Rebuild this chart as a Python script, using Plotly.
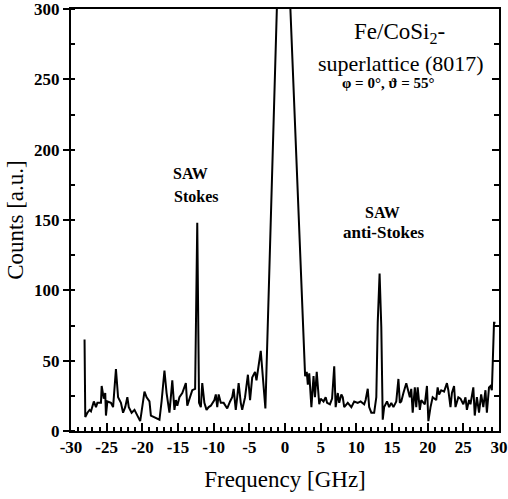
import plotly.graph_objects as go

freq = [-28.1, -28.0, -27.7, -27.4, -27.2, -26.8, -26.5, -26.3, -25.8, -25.7,
        -25.4, -25.2, -25.1, -24.9, -24.4, -24.1, -23.7, -23.4, -23.0, -22.7,
        -22.4, -22.1, -21.9, -21.5, -21.1, -20.7, -20.3, -20.1, -19.7, -19.4,
        -19.0, -18.8, -17.6, -17.3, -16.9, -16.6, -16.2, -15.9, -15.8, -15.5,
        -15.3, -15.1, -14.8, -14.4, -13.9, -13.7, -13.0, -12.6, -12.3, -12.05,
        -11.8, -11.6, -11.3, -11.0, -10.7, -10.4, -9.9, -9.7, -9.5, -9.3,
        -9.0, -8.6, -8.1, -7.7, -7.4, -7.2, -6.9, -6.7, -6.5, -6.2,
        -6.0, -5.6, -5.2, -4.9, -4.6, -4.2, -4.0, -3.4, -3.2, -2.75,
        -0.35,
        2.82, 3.05, 3.2, 3.4, 3.7, 4.0, 4.2, 4.45, 4.6, 4.8,
        5.0, 5.4, 5.7, 5.9, 6.3, 6.6, 6.9, 7.1, 7.4, 7.6,
        7.9, 8.1, 8.3, 8.8, 9.3, 9.7, 10.2, 10.6, 11.1, 11.3,
        11.6, 11.8, 12.1, 12.5, 12.8, 13.0, 13.26, 13.5, 13.7, 13.9,
        14.3, 14.6, 14.9, 15.2, 15.6, 15.9, 16.1, 16.3, 16.6, 17.0,
        17.2, 17.5, 17.7, 17.9, 18.2, 18.4, 18.6, 18.9, 19.1, 19.6,
        19.9, 20.1, 20.4, 20.7, 21.2, 21.4, 21.6, 21.9, 22.3, 22.7,
        22.9, 23.2, 23.4, 23.7, 23.9, 24.3, 24.6, 25.0, 25.3, 25.5,
        25.8, 26.0, 26.4, 26.6, 26.9, 27.2, 27.5, 27.8, 28.1, 28.3,
        28.6, 28.8, 29.0, 29.3, 29.5]

counts = [65, 10, 13, 15, 14, 21, 17, 20, 20, 32,
          23, 27, 11, 21, 20, 17, 44, 24, 20, 13,
          17, 24, 17, 13, 15, 11, 7, 14, 28, 24,
          21, 11, 8, 21, 43, 27, 13, 30, 36, 15,
          22, 18, 24, 27, 34, 18, 29, 30, 148, 20,
          17, 34, 20, 15, 17, 18, 22, 26, 17, 26,
          20, 20, 16, 21, 24, 30, 15, 24, 34, 20,
          15, 24, 40, 22, 38, 42, 36, 57, 43, 16,
          440,
          39, 42, 33, 41, 17, 39, 24, 42, 30, 19,
          23, 21, 24, 20, 19, 23, 46, 17, 27, 20,
          26, 24, 17, 20, 17, 21, 20, 21, 19, 22,
          30, 17, 13, 13, 24, 77, 112, 74, 8, 17,
          21, 17, 20, 17, 21, 37, 20, 21, 27, 34,
          30, 24, 30, 13, 31, 17, 31, 15, 22, 19,
          32, 7, 17, 24, 22, 31, 26, 29, 28, 34,
          29, 17, 27, 32, 17, 24, 23, 19, 24, 15,
          22, 19, 31, 11, 24, 13, 26, 17, 29, 13,
          31, 32, 29, 77, 77]

x_ticks = [-30, -25, -20, -15, -10, -5, 0, 5, 10, 15, 20, 25, 30]
y_ticks = [0, 50, 100, 150, 200, 250, 300]

SERIF = "Liberation Serif"

fig = go.Figure()
fig.add_trace(go.Scatter(x=freq, y=counts, mode="lines",
                         line=dict(color="black", width=2),
                         showlegend=False, hoverinfo="skip"))
fig.add_trace(go.Scatter(x=[-100], y=[-100], yaxis="y2", mode="markers",
                         marker=dict(opacity=0), showlegend=False,
                         hoverinfo="skip"))

fig.update_layout(
    width=508, height=499,
    margin=dict(l=71, r=9, t=9, b=68, autoexpand=False),
    plot_bgcolor="white", paper_bgcolor="white",
    font=dict(family=SERIF, color="black"),
    xaxis=dict(range=[-30, 30], tickvals=x_ticks,
               ticktext=[str(v) for v in x_ticks], automargin=False,
               ticklabeloverflow="allow",
               ticks="inside", ticklen=8, tickwidth=1.5, tickcolor="black",
               minor=dict(dtick=1, ticks="inside", ticklen=4, tickwidth=1.5,
                          tickcolor="black"),
               showline=True, linecolor="black", linewidth=2, mirror=True,
               showgrid=False, zeroline=False,
               tickfont=dict(family=SERIF, size=17, weight="bold"),
               title=dict(text="Frequency [GHz]",
                          font=dict(family=SERIF, size=23), standoff=14)),
    yaxis=dict(range=[0, 300], tickvals=y_ticks,
               ticktext=[str(v) for v in y_ticks], automargin=False,
               ticklabeloverflow="allow",
               ticks="outside", ticklen=6, tickwidth=1.5, tickcolor="black",
               minor=dict(dtick=25, ticks="inside", ticklen=4, tickwidth=1.5,
                          tickcolor="black"),
               showline=True, linecolor="black", linewidth=2, mirror=True,
               showgrid=False, zeroline=False,
               tickfont=dict(family=SERIF, size=17, weight="bold"),
               title=dict(text="Counts [a.u.]",
                          font=dict(family=SERIF, size=23), standoff=4)),
    yaxis2=dict(range=[0, 300], overlaying="y", side="right",
                tickvals=y_ticks, showticklabels=False, automargin=False,
                ticks="inside", ticklen=7, tickwidth=1.5, tickcolor="black",
                minor=dict(dtick=25, ticks="inside", ticklen=5, tickwidth=1.5,
                           tickcolor="black"),
                showgrid=False, zeroline=False, showline=False),
)

ann = [
    ("Fe/CoSi<sub>2</sub>-", 16.0, 283, 23, "normal"),
    ("superlattice (8017)", 16.2, 261.5, 22, "normal"),
    ("φ = 0°, ϑ = 55°", 14.5, 247.3, 15, "bold"),
    ("SAW", 13.6, 155.6, 16, "bold"),
    ("anti-Stokes", 13.9, 141.4, 17, "bold"),
    ("SAW", -13.2, 183.4, 16, "bold"),
    ("Stokes", -12.5, 167, 16, "bold"),
]
for text, x, y, size, weight in ann:
    fig.add_annotation(x=x, y=y, xref="x", yref="y", text=text,
                       showarrow=False, xanchor="center", yanchor="middle",
                       font=dict(family=SERIF, size=size, weight=weight,
                                 color="black"))

fig.write_html("out.html", config={"displayModeBar": False},
               post_script="document.body.style.margin='0px';"
                           "document.body.style.padding='0px';")
